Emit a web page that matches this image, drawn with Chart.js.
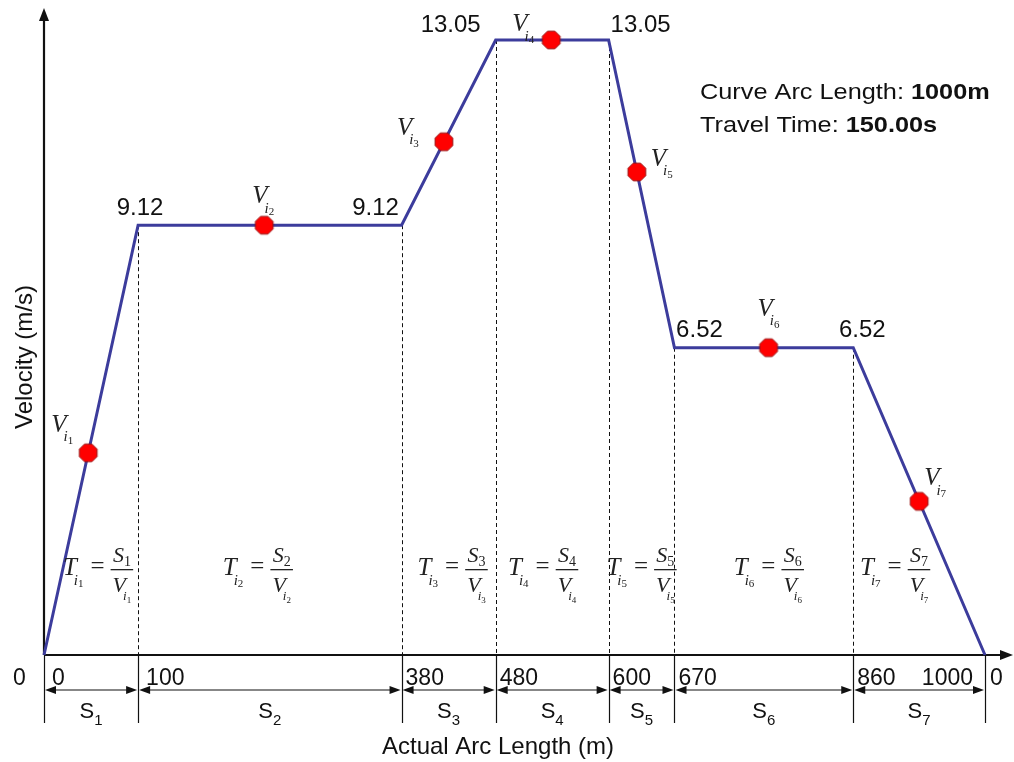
<!DOCTYPE html>
<html lang="en">
  <head>
    <meta charset="UTF-8" />
    <title>Velocity vs Actual Arc Length</title>
    <script src="https://cdn.jsdelivr.net/npm/chart.js@4.4.1/dist/chart.umd.min.js"></script>
    <style>
      body { margin: 0; background: #fff; }
      #box { width: 1014px; height: 762px; position: relative; }
    </style>
  </head>
  <body>
    <div id="box">
      <canvas id="profile"></canvas>
    </div>
    <script>
      // velocity profile break points (arc length m, velocity m/s)
      const arcBreaks = [0, 100, 380, 480, 600, 670, 860, 1000];
      const velocities = [0, 9.12, 9.12, 13.05, 13.05, 6.52, 6.52, 0];
      // sampled velocity V_i on each segment
      const sampleArc = [47, 234, 425, 539, 630, 770, 930];
      const sampleVel = [4.29, 9.12, 10.89, 13.05, 10.25, 6.52, 3.26];
      const tickLabels = ['0', '100', '380', '480', '600', '670', '860', '1000'];
      const curveLength = '1000m';
      const travelTime = '150.00s';

      const SANS = '"Liberation Sans", Arial, sans-serif';
      const SERIF = '"Liberation Serif", "Times New Roman", serif';

      // red octagon marker
      function octagon() {
        const c = document.createElement('canvas');
        c.width = 22; c.height = 22;
        const g = c.getContext('2d');
        g.beginPath();
        for (let k = 0; k < 8; k++) {
          const a = Math.PI / 8 + k * Math.PI / 4;
          const px = 11 + 9.6 * Math.cos(a), py = 11 + 9.6 * Math.sin(a);
          if (k == 0) g.moveTo(px, py); else g.lineTo(px, py);
        }
        g.closePath();
        g.fillStyle = '#ff0000';
        g.fill();
        g.strokeStyle = '#9a1010';
        g.lineWidth = 1;
        g.stroke();
        return c;
      }

      function arrowHead(ctx, x, y, dir) {
        ctx.beginPath();
        if (dir == 'up') { ctx.moveTo(x, y); ctx.lineTo(x - 5, y + 13); ctx.lineTo(x + 5, y + 13); }
        if (dir == 'right') { ctx.moveTo(x, y); ctx.lineTo(x - 13, y - 5); ctx.lineTo(x - 13, y + 5); }
        if (dir == 'left') { ctx.moveTo(x, y); ctx.lineTo(x + 11, y - 4); ctx.lineTo(x + 11, y + 4); }
        ctx.closePath();
        ctx.fill();
      }

      // italic letter with i_k subscript, returns width
      function vSym(ctx, letter, x, y, k, size, draw) {
        ctx.font = 'italic ' + size + 'px ' + SERIF;
        const w = ctx.measureText(letter).width;
        if (draw) ctx.fillText(letter, x, y);
        const s1 = Math.round(size * 0.6), s2 = Math.round(size * 0.42);
        ctx.font = 'italic ' + s1 + 'px ' + SERIF;
        const wi = ctx.measureText('i').width;
        if (draw) ctx.fillText('i', x + w - 3, y + size * 0.38);
        ctx.font = s2 + 'px ' + SERIF;
        const wk = ctx.measureText(String(k)).width;
        if (draw) ctx.fillText(String(k), x + w - 3 + wi, y + size * 0.48);
        return w - 3 + wi + wk;
      }

      function sSym(ctx, x, y, k, size, draw) {
        ctx.font = 'italic ' + size + 'px ' + SERIF;
        const w = ctx.measureText('S').width;
        if (draw) ctx.fillText('S', x, y);
        ctx.font = Math.round(size * 0.62) + 'px ' + SERIF;
        const wk = ctx.measureText(String(k)).width;
        if (draw) ctx.fillText(String(k), x + w, y + 4);
        return w + wk;
      }

      // T_ik = S_k / V_ik
      function formula(ctx, x, yb, k, draw) {
        let cx = x;
        cx += vSym(ctx, 'T', cx, yb, k, 25, draw) + 7;
        ctx.font = '25px ' + SERIF;
        if (draw) ctx.fillText('=', cx, yb - 1);
        cx += ctx.measureText('=').width + 6;
        const nw = sSym(ctx, 0, 0, k, 22, false);
        const dw = vSym(ctx, 'V', 0, 0, k, 22, false);
        const bw = Math.max(nw, dw) + 4;
        if (draw) {
          ctx.fillRect(cx, yb - 6, bw, 1.3);
          sSym(ctx, cx + (bw - nw) / 2, yb - 13, k, 22, true);
          vSym(ctx, 'V', cx + (bw - dw) / 2, yb + 17, k, 22, true);
        }
        return cx + bw - x;
      }

      const labelOffsets = [null, [2, -10], [-26, -10], [-45, -8], [32, -8], [25, -11], [9, -11], null];
      const vLabelOffsets = [[-37, -21], [-12, -22], [-47, -7], [-39, -9], [14, -6], [-11, -32], [5, -16]];
      const formulaShift = [7, -12, 4, -9, 0, 5, -24];

      const decor = {
        id: 'decor',
        beforeDatasetsDraw(chart) {
          const ctx = chart.ctx, xs = chart.scales.x, ys = chart.scales.y;
          const x0 = xs.getPixelForValue(0), y0 = ys.getPixelForValue(0);
          ctx.save();
          ctx.fillStyle = '#111';
          ctx.strokeStyle = '#111';
          // dashed drop lines
          ctx.lineWidth = 1;
          ctx.setLineDash([4, 3]);
          for (let i = 1; i < arcBreaks.length - 1; i++) {
            const px = Math.round(xs.getPixelForValue(arcBreaks[i])) + 0.5;
            ctx.beginPath();
            ctx.moveTo(px, ys.getPixelForValue(velocities[i]));
            ctx.lineTo(px, y0);
            ctx.stroke();
          }
          ctx.setLineDash([]);
          // axes
          ctx.lineWidth = 2.2;
          ctx.beginPath();
          ctx.moveTo(x0, y0); ctx.lineTo(x0, 20);
          ctx.moveTo(x0, y0); ctx.lineTo(1004, y0);
          ctx.stroke();
          arrowHead(ctx, x0, 8, 'up');
          arrowHead(ctx, 1013, y0, 'right');
          // dimension row
          ctx.lineWidth = 1.2;
          const ya = y0 + 35;
          for (let i = 0; i < arcBreaks.length; i++) {
            const px = Math.round(xs.getPixelForValue(arcBreaks[i])) + 0.5;
            ctx.beginPath();
            ctx.moveTo(px, y0); ctx.lineTo(px, y0 + 68);
            ctx.stroke();
          }
          for (let i = 0; i < arcBreaks.length - 1; i++) {
            const a = xs.getPixelForValue(arcBreaks[i]) + 1, b = xs.getPixelForValue(arcBreaks[i + 1]) - 1;
            ctx.beginPath();
            ctx.moveTo(a + 6, ya); ctx.lineTo(b - 6, ya);
            ctx.stroke();
            arrowHead(ctx, a, ya, 'left');
            ctx.save(); ctx.translate(b, ya); ctx.scale(-1, 1); arrowHead(ctx, 0, 0, 'left'); ctx.restore();
          }
          ctx.restore();
        },
        afterDatasetsDraw(chart) {
          const ctx = chart.ctx, xs = chart.scales.x, ys = chart.scales.y;
          const y0 = ys.getPixelForValue(0);
          ctx.save();
          ctx.fillStyle = '#111';
          ctx.textBaseline = 'alphabetic';
          // tick labels
          ctx.font = '23px ' + SANS;
          ctx.textAlign = 'left';
          ctx.fillText('0', 13, y0 + 30);
          for (let i = 0; i < tickLabels.length; i++) {
            const px = xs.getPixelForValue(arcBreaks[i]);
            if (i == tickLabels.length - 1) {
              ctx.textAlign = 'right';
              ctx.fillText(tickLabels[i], px - 12, y0 + 30);
              ctx.textAlign = 'left';
              ctx.fillText('0', px + 5, y0 + 30);
            } else {
              ctx.fillText(tickLabels[i], px + (i < 2 ? 8 : 4), y0 + 30);
            }
          }
          // segment names S_k
          for (let i = 0; i < arcBreaks.length - 1; i++) {
            const c = (xs.getPixelForValue(arcBreaks[i]) + xs.getPixelForValue(arcBreaks[i + 1])) / 2;
            ctx.font = '22px ' + SANS;
            const w1 = ctx.measureText('S').width;
            ctx.font = '15px ' + SANS;
            const w2 = ctx.measureText(String(i + 1)).width;
            const sx = c - (w1 + w2) / 2;
            ctx.font = '22px ' + SANS;
            ctx.textAlign = 'left';
            ctx.fillText('S', sx, y0 + 63);
            ctx.font = '15px ' + SANS;
            ctx.fillText(String(i + 1), sx + w1, y0 + 70);
          }
          // axis titles
          ctx.font = '24px ' + SANS;
          ctx.textAlign = 'center';
          ctx.fillText('Actual Arc Length (m)', 498, y0 + 99);
          ctx.save();
          ctx.translate(32, 357);
          ctx.rotate(-Math.PI / 2);
          ctx.fillText('Velocity (m/s)', 0, 0);
          ctx.restore();
          // velocity values at break points
          ctx.font = '24px ' + SANS;
          for (let i = 1; i < arcBreaks.length - 1; i++) {
            const o = labelOffsets[i];
            ctx.fillText(velocities[i].toFixed(2), xs.getPixelForValue(arcBreaks[i]) + o[0], ys.getPixelForValue(velocities[i]) + o[1]);
          }
          // V_i labels
          ctx.textAlign = 'left';
          ctx.fillStyle = '#222';
          for (let k = 0; k < sampleArc.length; k++) {
            const o = vLabelOffsets[k];
            vSym(ctx, 'V', xs.getPixelForValue(sampleArc[k]) + o[0], ys.getPixelForValue(sampleVel[k]) + o[1], k + 1, 25, true);
          }
          // T_i formulas
          for (let k = 0; k < arcBreaks.length - 1; k++) {
            const c = (xs.getPixelForValue(arcBreaks[k]) + xs.getPixelForValue(arcBreaks[k + 1])) / 2 + formulaShift[k];
            const w = formula(ctx, 0, 0, k + 1, false);
            formula(ctx, c - w / 2, y0 - 80, k + 1, true);
          }
          // summary text (slightly wide lettering as in the figure)
          ctx.fillStyle = '#111';
          ctx.save();
          ctx.translate(700, 0);
          ctx.scale(1.15, 1);
          ctx.font = '22px ' + SANS;
          let t1 = 'Curve Arc Length: ', t2 = 'Travel Time: ';
          ctx.fillText(t1, 0, 99);
          ctx.fillText(t2, 0, 132);
          const w1 = ctx.measureText(t1).width, w2 = ctx.measureText(t2).width;
          ctx.font = 'bold 22px ' + SANS;
          ctx.fillText(curveLength, w1, 99);
          ctx.fillText(travelTime, w2, 132);
          ctx.restore();
          ctx.restore();
        }
      };

      const ctx = document.getElementById('profile').getContext('2d');
      const chart = new Chart(ctx, {
        type: 'line',
        data: {
          datasets: [
            {
              label: 'Sampled velocity',
              data: sampleArc.map((a, i) => ({ x: a, y: sampleVel[i] })),
              showLine: false,
              pointStyle: octagon(),
              pointRadius: 10,
              clip: false
            },
            {
              label: 'Velocity',
              data: arcBreaks.map((a, i) => ({ x: a, y: velocities[i] })),
              borderColor: '#3c3c9c',
              borderWidth: 3,
              pointRadius: 0,
              tension: 0,
              fill: false,
              clip: false
            }
          ]
        },
        options: {
          responsive: true,
          maintainAspectRatio: false,
          animation: false,
          layout: { padding: { left: 44, top: 40, right: 29, bottom: 107 } },
          plugins: { legend: { display: false }, tooltip: { enabled: false } },
          scales: {
            x: { type: 'linear', min: 0, max: 1000, display: false },
            y: { type: 'linear', min: 0, max: 13.05, display: false }
          }
        },
        plugins: [decor]
      });
    </script>
  </body>
</html>
